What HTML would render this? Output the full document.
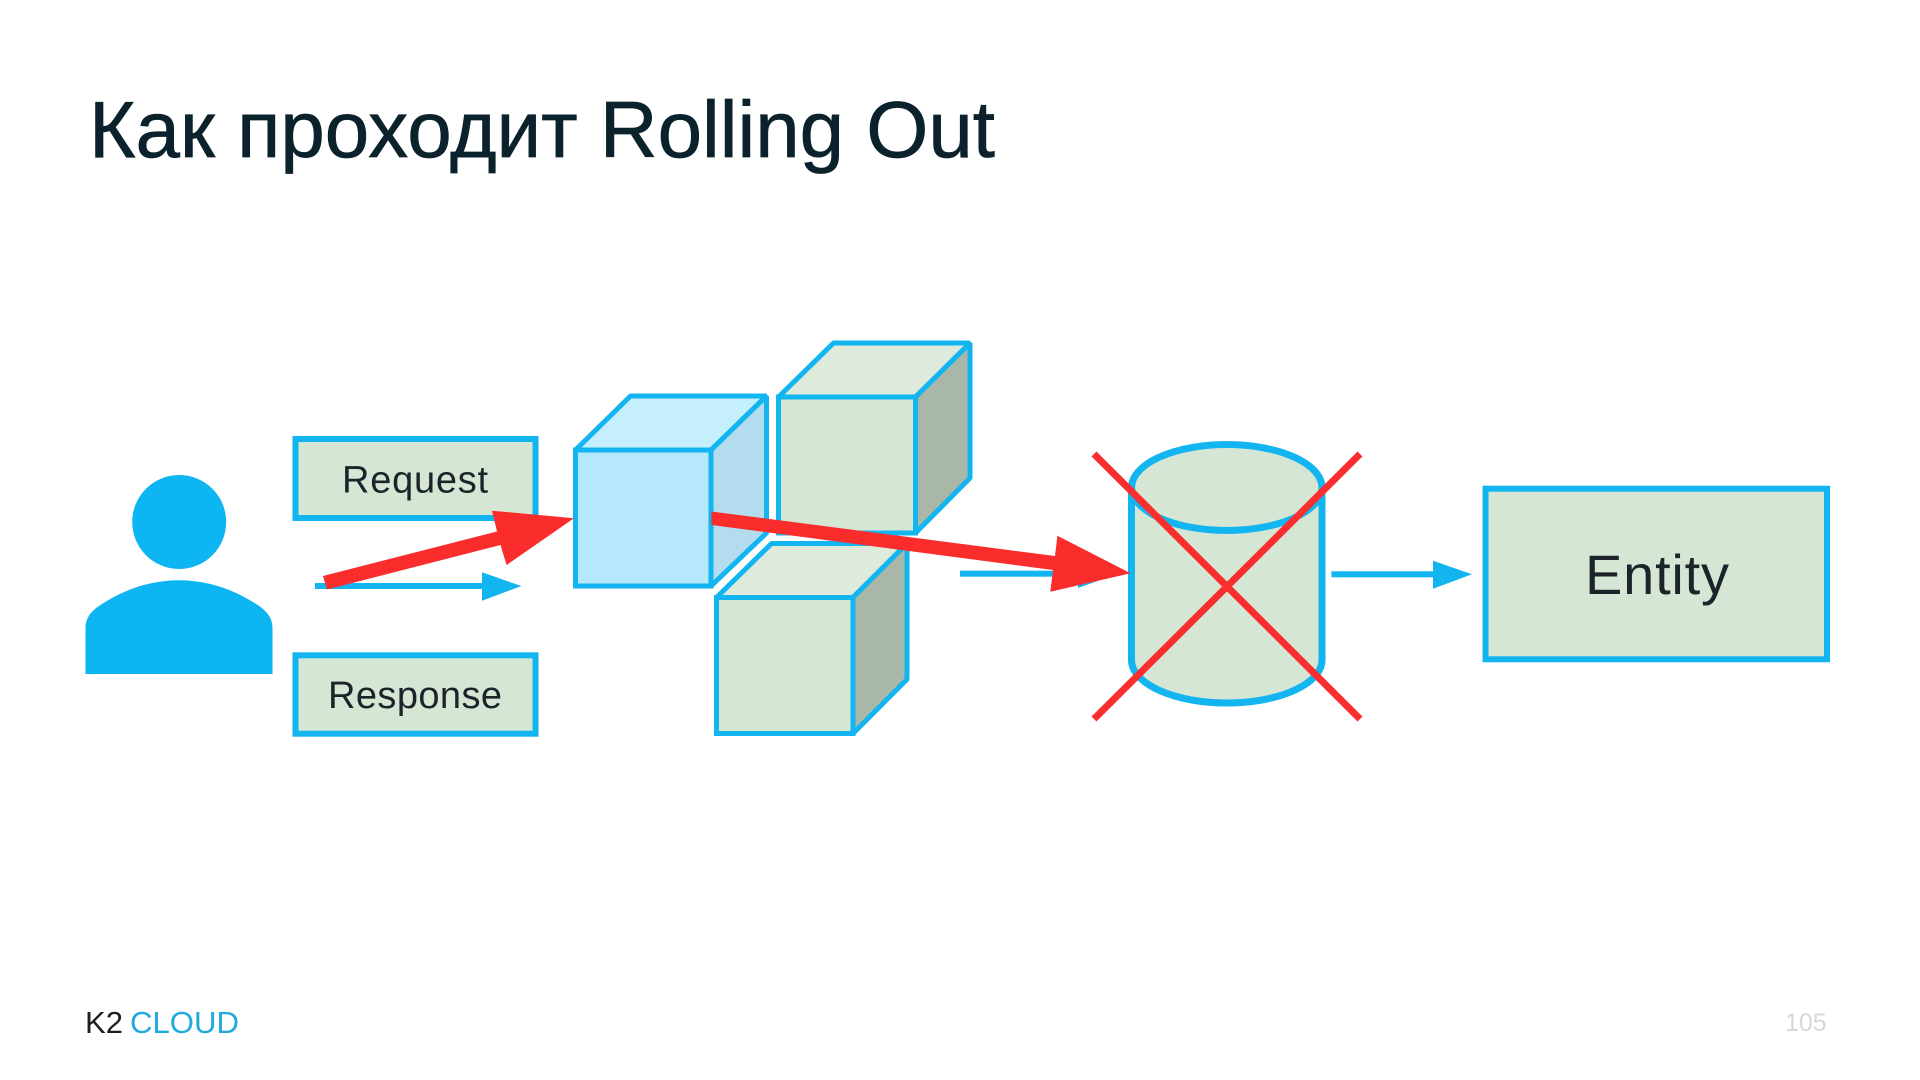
<!DOCTYPE html>
<html lang="ru"><head><meta charset="utf-8"><title>Rolling Out</title>
<style>html,body{margin:0;padding:0;background:#fff}svg{display:block}text{font-family:"Liberation Sans",sans-serif}</style></head>
<body>
<svg width="1920" height="1080" viewBox="0 0 1920 1080" xmlns="http://www.w3.org/2000/svg">
<rect width="1920" height="1080" fill="#fff"/>
<text x="89" y="157" font-size="80" fill="#0b222c" stroke="#0b222c" stroke-width="0.7" textLength="906" lengthAdjust="spacingAndGlyphs">Как проходит Rolling Out</text>

<!-- person -->
<g fill="#0db5f3">
<circle cx="179.2" cy="522" r="47"/>
<path d="M85.5 674V628C85.5 613 98 606 112 598C132 587 155 580.3 179 580.3C203 580.3 226 587 246 598C260 606 272.5 613 272.5 628V674Z"/>
</g>

<!-- labels -->
<g fill="#d5e7d4" stroke="#12b5f0" stroke-width="6">
<rect x="295.5" y="439" width="240" height="79"/>
<rect x="295.5" y="655.3" width="240" height="78.4"/>
<rect x="1485.5" y="488.7" width="341.5" height="170.6"/>
</g>
<g fill="#1c2329">
<text x="342" y="492.5" font-size="38" textLength="146" lengthAdjust="spacing">Request</text>
<text x="328" y="708" font-size="38" textLength="174" lengthAdjust="spacing">Response</text>
<text x="1585" y="594" font-size="56" textLength="144" lengthAdjust="spacing">Entity</text>
</g>

<!-- blue arrows -->
<g fill="#12b5f0">
<rect x="315" y="583" width="170" height="6"/><polygon points="482,572.3 521.4,586 482,600.7"/>
<rect x="960" y="570.7" width="122" height="6"/><polygon points="1078,560 1118,573.7 1078,588"/>
<rect x="1331.4" y="571.3" width="104" height="6"/><polygon points="1433,560.7 1472,574.3 1433,588.7"/>
</g>

<!-- cubes -->
<g stroke="#12b5f0" stroke-width="5" stroke-linejoin="bevel">
<g>
<polygon points="575.5,450 630.5,396 766.5,396 711,450" fill="#c5effc"/>
<polygon points="711,450 766.5,396 766.5,533 711,586" fill="#b3dcee"/>
<rect x="575.5" y="450" width="135.5" height="136" fill="#b5e8fb" stroke-linejoin="miter"/>
</g>
<g>
<polygon points="778.5,397 833.5,343 970,343 915.5,397" fill="#deeadc"/>
<polygon points="915.5,397 970,343 970,478 915.5,533" fill="#a9b7a8"/>
<rect x="778.5" y="397" width="137" height="136" fill="#d5e7d4" stroke-linejoin="miter"/>
</g>
<g>
<polygon points="716.5,597.5 771.5,543.5 907,543.5 853,597.5" fill="#deeadc"/>
<polygon points="853,597.5 907,543.5 907,679.3 853,733.5" fill="#a9b7a8"/>
<rect x="716.5" y="597.5" width="136.5" height="136" fill="#d5e7d4" stroke-linejoin="miter"/>
</g>
</g>

<!-- cylinder -->
<g stroke="#12b5f0" stroke-width="7" fill="#d5e7d4">
<path d="M1131.5 487.5V660A95.2 43 0 0 0 1322 660V487.5Z"/>
<ellipse cx="1226.8" cy="487.5" rx="95.2" ry="43"/>
</g>

<!-- red X and arrows -->
<g stroke="#f92f2f" stroke-width="7" fill="none">
<line x1="1094" y1="454" x2="1360" y2="719"/>
<line x1="1360" y1="454" x2="1094" y2="719"/>
</g>
<g fill="#fb2c2c">
<polygon points="323,576 497,531.5 492,510.7 574,518.3 506.6,565 500.5,545 327,589.5"/>
<polygon points="711.4,511.5 1055,556 1057.4,535.7 1130.6,573.3 1050.3,591.7 1053,570 711.4,525"/>
</g>

<!-- footer -->
<text x="85" y="1033" font-size="31" fill="#1b1f22" textLength="38" lengthAdjust="spacingAndGlyphs">K2</text>
<text x="130" y="1033" font-size="31" fill="#1fa9dc" textLength="109" lengthAdjust="spacingAndGlyphs">CLOUD</text>
<text x="1785" y="1031" font-size="25" fill="#d5d8da">105</text>
</svg>
</body></html>
